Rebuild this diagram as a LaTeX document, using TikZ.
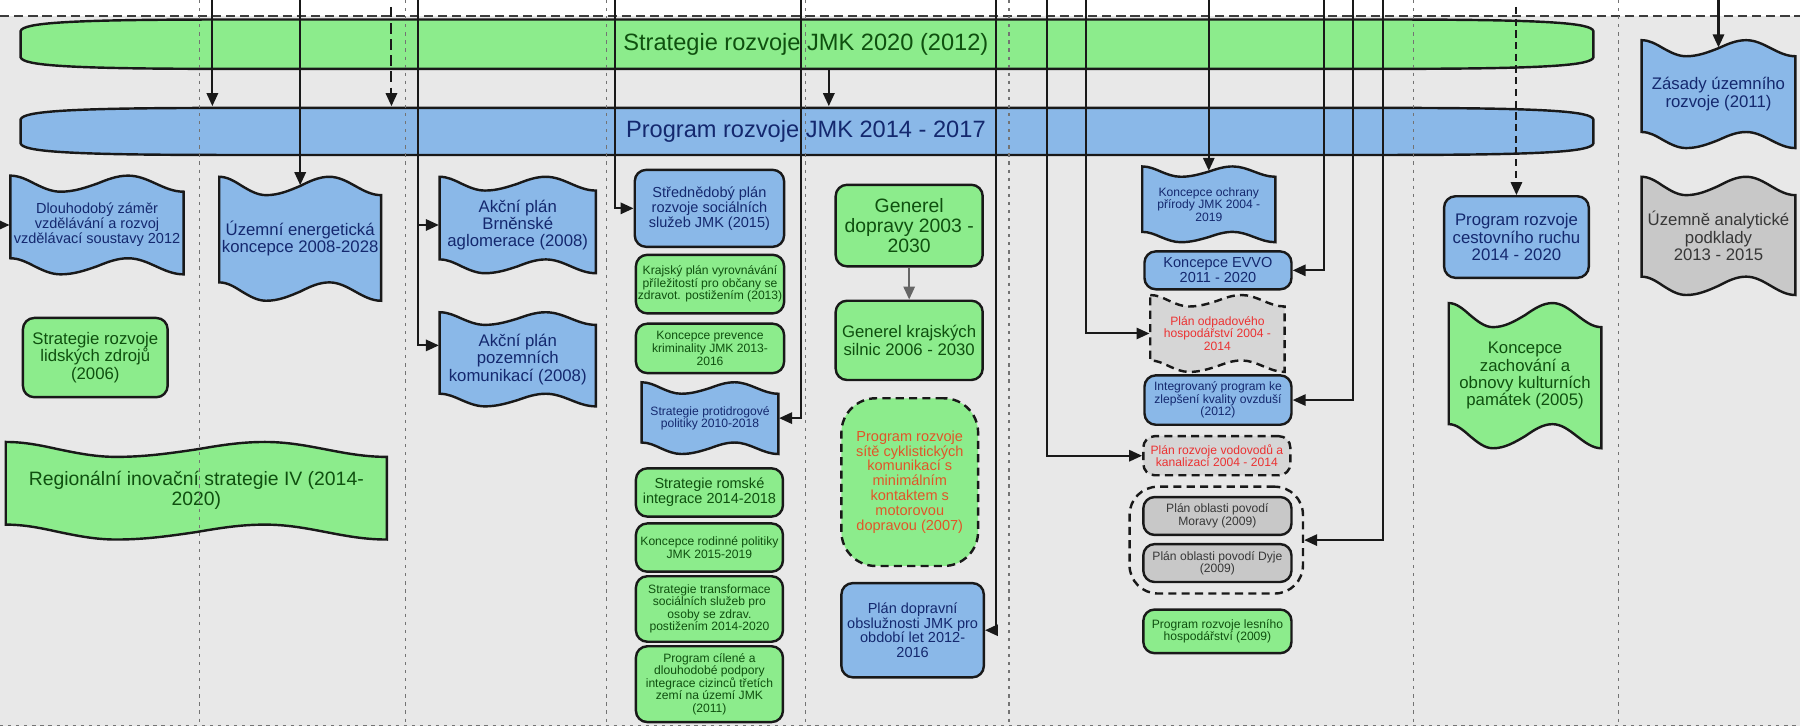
\documentclass[tikz,border=0pt]{standalone}
\usepackage{fontspec}
\setmainfont{Liberation Sans}
\usetikzlibrary{arrows.meta}

\definecolor{paper}{RGB}{232,232,232}
\definecolor{edge}{RGB}{25,25,25}
\definecolor{gfill}{RGB}{140,236,140}
\definecolor{bfill}{RGB}{138,184,232}
\definecolor{grfill}{RGB}{200,200,200}
\definecolor{dfill}{RGB}{214,214,214}
\definecolor{gtext}{RGB}{15,80,15}
\definecolor{btext}{RGB}{20,40,110}
\definecolor{grtext}{RGB}{55,55,55}
\definecolor{rtext}{RGB}{235,50,50}
\definecolor{otext}{RGB}{225,85,40}

\tikzset{
  edgeline/.style={draw=edge,line width=0.6pt},
  box/.style={edgeline,rounded corners=2.8pt,align=center,inner sep=0pt},
  gbox/.style={box,fill=gfill,text=gtext},
  bbox/.style={box,fill=bfill,text=btext},
  grbox/.style={box,fill=grfill,text=grtext},
  gtape/.style={fill=gfill,text=gtext},
  btape/.style={fill=bfill,text=btext},
  grtape/.style={fill=grfill,text=grtext},
  lbl/.style={align=center,inner sep=0pt},
  dashbox/.style={dash pattern=on 2pt off 1.3pt},
  fbar/.style={font=\fontsize{5.85}{6}\selectfont},
  fgen/.style={font=\fontsize{4.8}{4.95}\selectfont},
  fbig/.style={font=\fontsize{4.15}{4.3}\selectfont},
  fmid/.style={font=\fontsize{3.6}{3.7}\selectfont},
  fsmall/.style={font=\fontsize{3}{3.1}\selectfont},
  link/.style={draw=edge,line width=0.5pt,-{Triangle[length=3.2pt,width=2.8pt]}},
  lane/.style={draw=black!55,line width=0.3pt,dash pattern=on 0.8pt off 1.2pt}
}

% wavy document: name, style, left, right, top, bottom, amplitude, text
\newcommand\tapebox[8]{%
  \path[edgeline,#2] (#3,{#5-#7})
    cos ({#3+.14*(#4-#3)},#5) sin ({#3+.29*(#4-#3)},{#5+#7})
    cos ({#3+.5*(#4-#3)},#5) sin ({#3+.68*(#4-#3)},{#5-#7})
    cos ({#3+.84*(#4-#3)},#5) sin (#4,{#5+#7})
    -- (#4,{#6+#7})
    cos ({#3+.84*(#4-#3)},#6) sin ({#3+.68*(#4-#3)},{#6-#7})
    cos ({#3+.5*(#4-#3)},#6) sin ({#3+.29*(#4-#3)},{#6+#7})
    cos ({#3+.14*(#4-#3)},#6) sin (#3,{#6-#7}) -- cycle;
  \node[lbl,#2,draw=none,fill=none,minimum width={(#4-#3)*0.01cm},
    minimum height={(#6-#5)*0.01cm}] (#1) at ({(#3+#4)/2},{(#5+#6)/2}) {#8};}

% long bar with tapered ends: style, left, right, top, bottom
\newcommand\flagbar[5]{%
  \path[edgeline,#1] (#2,{#4+10}) .. controls (#2+2,{#4+3}) and (#2+40,#4) .. (#2+180,#4)
    -- (#3-180,#4) .. controls (#3-40,#4) and (#3-2,{#4+3}) .. (#3,{#4+10})
    -- (#3,{#5-10}) .. controls (#3-2,{#5-3}) and (#3-40,#5) .. (#3-180,#5)
    -- (#2+180,#5) .. controls (#2+40,#5) and (#2+2,{#5-3}) .. (#2,{#5-10}) -- cycle;}

\begin{document}
\begin{tikzpicture}[x=0.01cm,y=-0.01cm]
  \clip (0,0) rectangle (1568,634);
  \fill[white] (0,0) rectangle (1568,634);
  \fill[paper] (0,14) rectangle (1568,632);
  \draw[draw=edge!85,line width=0.5pt,dash pattern=on 2.3pt off 1.2pt] (0,14) -- (1568,14);

  % the two main bars
  \flagbar{gtape}{18}{1388}{17}{60}
  \flagbar{btape}{18}{1388}{94}{135}
  \node[fbar,text=gtext,minimum width=13.7cm,minimum height=0.43cm] (strat) at (702,38.5) {Strategie rozvoje JMK 2020 (2012)};
  \node[fbar,text=btext,minimum width=13.7cm,minimum height=0.41cm] (prog) at (702,114.5) {Program rozvoje JMK 2014 - 2017};

  % lanes 1 - 3
  \tapebox{dlouh}{btape,fmid}{9}{160}{160}{232}{7}{Dlouhodobý záměr\\vzdělávání a rozvoj\\vzdělávací soustavy 2012}
  \node[gbox,fbig,minimum width=1.26cm,minimum height=0.69cm] (lidske) at (83,311.5) {Strategie rozvoje\\lidských zdrojů\\(2006)};
  \tapebox{region}{gtape,fgen}{5}{337}{391.5}{463.5}{6.5}{Regionální inovační strategie IV (2014-\\2020)}
  \tapebox{ener}{btape,fbig}{191}{332}{162}{254}{8}{Územní energetická\\koncepce 2008-2028}
  \tapebox{brno}{btape,fbig}{383}{519}{160}{232}{6}{Akční plán\\Brněnské\\aglomerace (2008)}
  \tapebox{poz}{btape,fbig}{383}{519}{277.5}{348.5}{5.5}{Akční plán\\pozemních\\komunikací (2008)}

  % lane 4
  \node[bbox,fmid,minimum width=1.30cm,minimum height=0.67cm] (stred) at (618,181.5) {Střednědobý plán\\rozvoje sociálních\\služeb JMK (2015)};
  \node[gbox,fsmall,minimum width=1.29cm,minimum height=0.51cm] (kraj) at (618.5,247.5) {Krajský plán vyrovnávání\\příležitostí pro občany se\\zdravot. postižením (2013)};
  \node[gbox,fsmall,minimum width=1.29cm,minimum height=0.43cm] (krimi) at (618.5,303.5) {Koncepce prevence\\kriminality JMK 2013-\\2016};
  \tapebox{drogy}{btape,fsmall}{559}{678}{338}{390.5}{5}{Strategie protidrogové\\politiky 2010-2018}
  \node[gbox,fmid,minimum width=1.28cm,minimum height=0.42cm] (romske) at (618,429) {Strategie romské\\integrace 2014-2018};
  \node[gbox,fsmall,minimum width=1.28cm,minimum height=0.42cm] (rodin) at (618,477) {Koncepce rodinné politiky\\JMK 2015-2019};
  \node[gbox,fsmall,minimum width=1.28cm,minimum height=0.57cm] (transf) at (618,530.5) {Strategie transformace\\sociálních služeb pro\\osoby se zdrav.\\postižením 2014-2020};
  \node[gbox,fsmall,minimum width=1.28cm,minimum height=0.66cm] (cizinci) at (618,596) {Program cílené a\\dlouhodobé podpory\\integrace cizinců třetích\\zemí na území JMK\\(2011)};

  % lane 5
  \node[gbox,fgen,minimum width=1.28cm,minimum height=0.71cm] (gendop) at (792,196.5) {Generel\\dopravy 2003 -\\2030};
  \node[gbox,fbig,minimum width=1.28cm,minimum height=0.69cm] (genkraj) at (792,296.5) {Generel krajských\\silnic 2006 - 2030};
  \node[gbox,dashbox,rounded corners=8.5pt,fmid,text=otext,minimum width=1.19cm,minimum height=1.46cm] (cyklo) at (792.5,420) {Program rozvoje\\sítě cyklistických\\komunikací s\\minimálním\\kontaktem s\\motorovou\\dopravou (2007)};
  \node[bbox,fmid,minimum width=1.24cm,minimum height=0.82cm] (doprob) at (795,549) {Plán dopravní\\obslužnosti JMK pro\\období let 2012-\\2016};

  % lane 6
  \tapebox{koch}{btape,fsmall}{995}{1111}{149.5}{206.5}{4.5}{Koncepce ochrany\\přírody JMK 2004 -\\2019}
  \node[bbox,fmid,minimum width=1.28cm,minimum height=0.33cm] (evvo) at (1061,235.5) {Koncepce EVVO\\2011 - 2020};
  \tapebox{odpad}{grtape,fill=dfill,dashbox,fsmall,text=rtext}{1002}{1119}{262}{319}{5}{Plán odpadového\\hospodářství 2004 -\\2014}
  \node[bbox,fsmall,minimum width=1.28cm,minimum height=0.43cm] (ovzdusi) at (1061,348.5) {Integrovaný program ke\\zlepšení kvality ovzduší\\(2012)};
  \node[grbox,fill=dfill,dashbox,fsmall,text=rtext,minimum width=1.28cm,minimum height=0.34cm] (vodo) at (1060,397) {Plán rozvoje vodovodů a\\kanalizací 2004 - 2014};
  \node[edgeline,dashbox,rounded corners=7pt,minimum width=1.51cm,minimum height=0.93cm] (povodi) at (1059.5,470.5) {};
  \node[grbox,fsmall,minimum width=1.29cm,minimum height=0.33cm] (morava) at (1060.5,449.5) {Plán oblasti povodí\\Moravy (2009)};
  \node[grbox,fsmall,minimum width=1.29cm,minimum height=0.33cm] (dyje) at (1060.5,490.5) {Plán oblasti povodí Dyje\\(2009)};
  \node[gbox,fsmall,minimum width=1.29cm,minimum height=0.38cm] (lesy) at (1060.5,550) {Program rozvoje lesního\\hospodářství (2009)};

  % lanes 7 - 8
  \node[bbox,fbig,minimum width=1.26cm,minimum height=0.71cm] (cestov) at (1321,206.5) {Program rozvoje\\cestovního ruchu\\2014 - 2020};
  \tapebox{pamatky}{gtape,fbig}{1262}{1395}{274.5}{380}{10.5}{Koncepce\\zachování a\\obnovy kulturních\\památek (2005)}
  \tapebox{zasady}{btape,fbig}{1430}{1564}{42}{122}{7}{Zásady územního\\rozvoje (2011)}
  \tapebox{uap}{grtape,fbig}{1430}{1564}{162}{249}{8}{Územně analytické\\podklady\\2013 - 2015}

  % free ends of the connectors
  \coordinate (tprog) at (185,0);
  \coordinate (tprog2) at (341,6);
  \coordinate (takce) at (364,0);
  \coordinate (tstred) at (536,0);
  \coordinate (tdrogy) at (698,0);
  \coordinate (tjmk) at (722,0);
  \coordinate (tdoprob) at (868,0);
  \coordinate (tvodo) at (912,0);
  \coordinate (todpad) at (946,0);
  \coordinate (tevvo) at (1153,0);
  \coordinate (tovz) at (1179,0);
  \coordinate (tpovodi) at (1205,0);
  \coordinate (tcest) at (1321,6);
  \coordinate (tdl) at (0,196);

  \draw[link] (tprog) -- (tprog |- prog.north);
  \draw[link,dash pattern=on 2.6pt off 1.4pt] (tprog2) -- (tprog2 |- prog.north);
  \draw[link] (ener.north |- tprog) -- (ener.north);
  \draw[link] (takce) |- (poz.170);
  \draw[link] (takce |- brno.west) -- (brno.west);
  \draw[link] (tstred) |- (stred.west);
  \draw[link] (tdrogy) |- (drogy.east);
  \draw[link] (tjmk |- strat.south) -- (tjmk |- prog.north);
  \draw[link,draw=black!60] (gendop) -- (genkraj);
  \draw[link] (tdoprob) |- (doprob.east);
  \draw[link] (tvodo) |- (vodo.west);
  \draw[link] (todpad) |- (odpad.west);
  \draw[link] (koch.north |- tprog) -- (koch.north);
  \draw[link] (tevvo) |- (evvo.east);
  \draw[link] (tovz) |- (ovzdusi.east);
  \draw[link] (tpovodi) |- (povodi.east);
  \draw[link,dash pattern=on 1.8pt off 1.1pt] (tcest) -- (cestov.north);
  \draw[link] (zasady.north |- tprog) -- (zasady.north);
  \draw[link] (tdl) -- (dlouh.west);

  % lane separators
  \foreach \x in {174,353,528,702,879,1231,1410}
    \draw[lane] (\x,0) -- (\x,632);
  \draw[lane] (0,632) -- (1568,632);
\end{tikzpicture}
\end{document}
